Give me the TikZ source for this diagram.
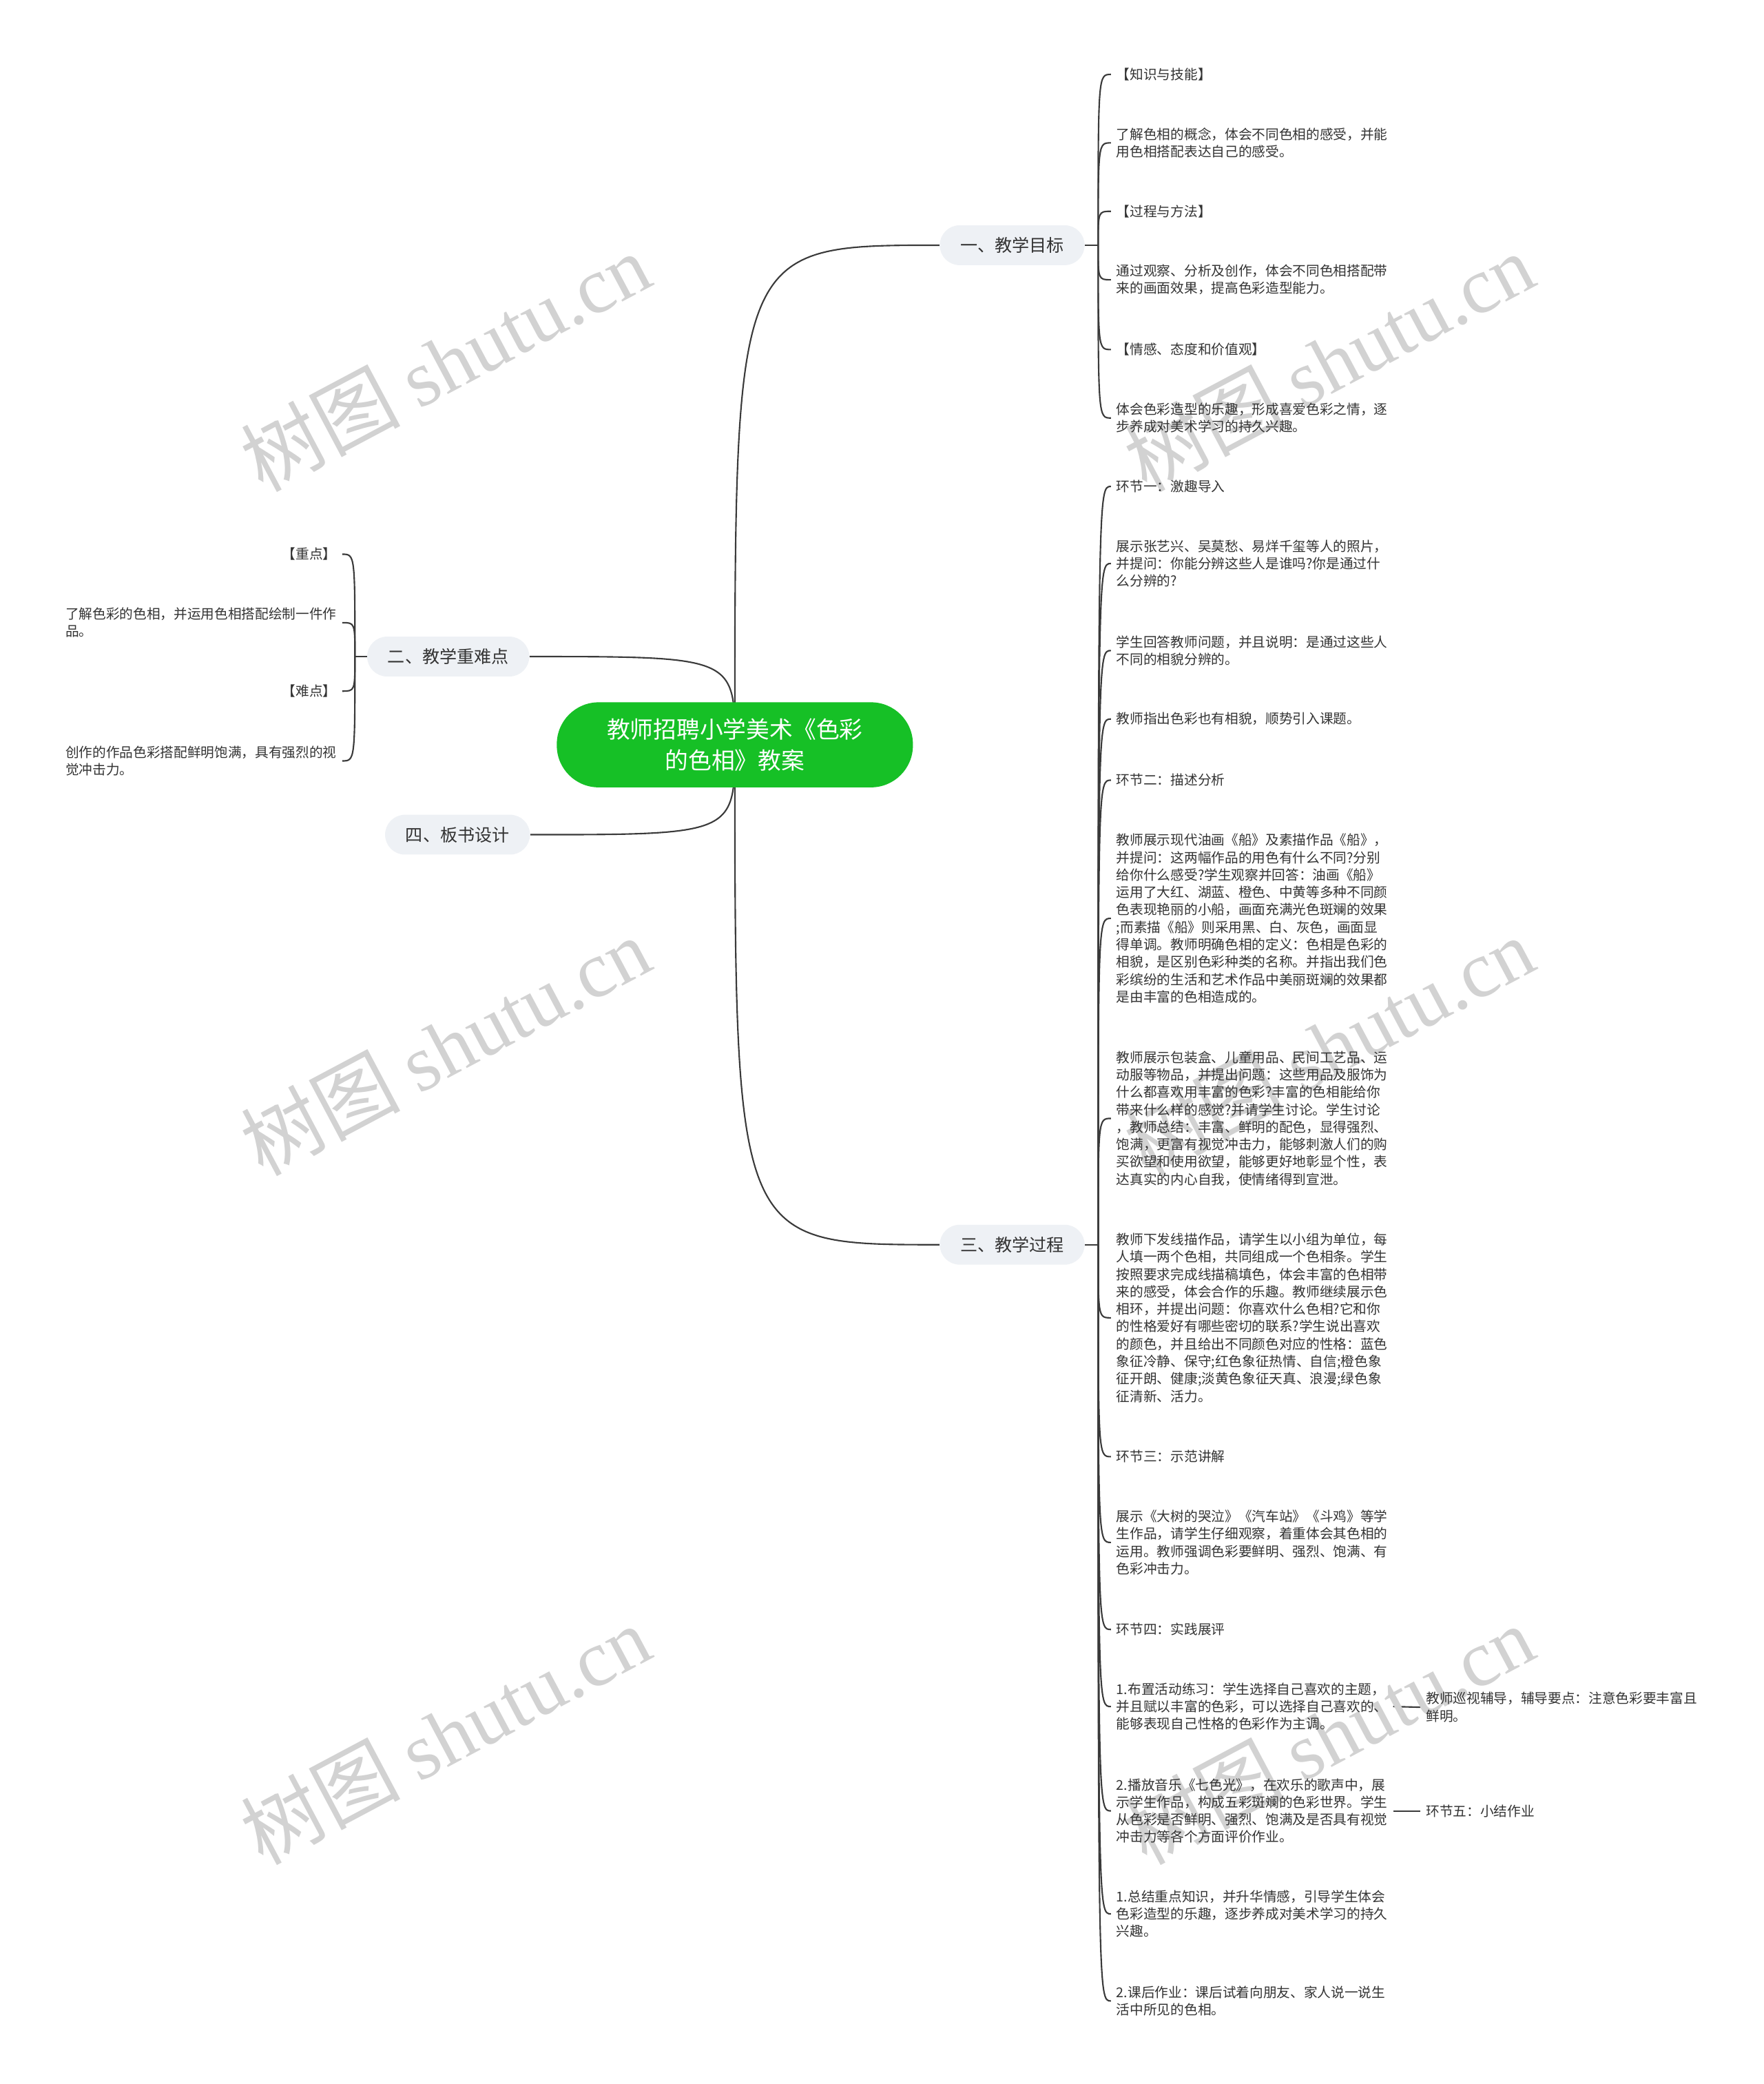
\documentclass[tikz,border=0pt]{standalone}
\usepackage{fontspec}
\usepackage{tikz}
\usepackage{xcolor}
\usetikzlibrary{backgrounds}
\setmainfont{Noto Sans CJK SC}
\newfontfamily\markserif{Liberation Serif}
\definecolor{rootgreen}{RGB}{22,192,38}
\definecolor{pillgray}{RGB}{238,241,245}
\definecolor{ink}{RGB}{51,51,51}
\definecolor{wire}{RGB}{58,58,58}
\definecolor{markgray}{RGB}{210,210,210}

\begin{document}
\begin{tikzpicture}[x=1pt, y=-1pt,
    root/.style={fill=rootgreen, text=white, rounded corners=31.5pt, minimum width=268pt,
        minimum height=64pt, align=center, font=\fontsize{17.5}{23.3}\selectfont},
    topic/.style={fill=pillgray, text=ink, rounded corners=15pt, minimum height=30pt,
        inner xsep=15.5pt, font=\fontsize{13}{15}\selectfont},
    leaf/.style={text=ink, align=left, inner xsep=4pt, inner ysep=1pt,
        font=\fontsize{10.2}{13.1}\selectfont},
    link/.style={draw=wire, line width=1.1pt,
        to path={.. controls (\tikztostart |- \tikztotarget) .. (\tikztotarget)}},
    watermark/.style={text=markgray, rotate=28, font=\fontsize{60}{60}\selectfont}]
    \useasboundingbox (0,0) rectangle (1327,1568);
    \begin{scope}[on background layer]
        \fill[white] (0,0) rectangle (1327,1568);
    \end{scope}

    % Watermark
    \foreach \wx in {335,1000}
        \foreach \wy in {272,787,1305}
            \node[watermark] (wm\wx\wy) at (\wx,\wy) {树图 {\markserif shutu.cn}};

    % Root and main topics
    \node[root] (root) at (553,560.4) {教师招聘小学美术《色彩\\的色相》教案};
    \node[topic, anchor=west] (t1) at (707,184.5) {一、教学目标};
    \node[topic, anchor=east] (t2) at (398.5,494) {二、教学重难点};
    \node[topic, anchor=west] (t3) at (707,936.5) {三、教学过程};
    \node[topic, anchor=east] (t4) at (399,628) {四、板书设计};
    \coordinate (j1) at ([xshift=10pt]t1.east);
    \coordinate (j2) at ([xshift=-9pt]t2.west);
    \coordinate (j3) at ([xshift=10pt]t3.east);

    % 一、教学目标
    \node[leaf, anchor=west] (c11) at (836,56) {【知识与技能】};
    \node[leaf, anchor=west] (c12) at (836,107.5) {了解色相的概念，体会不同色相的感受，并能\\用色相搭配表达自己的感受。};
    \node[leaf, anchor=west] (c13) at (836,159) {【过程与方法】};
    \node[leaf, anchor=west] (c14) at (836,210.5) {通过观察、分析及创作，体会不同色相搭配带\\来的画面效果，提高色彩造型能力。};
    \node[leaf, anchor=west] (c15) at (836,263) {【情感、态度和价值观】};
    \node[leaf, anchor=west] (c16) at (836,314.5) {体会色彩造型的乐趣，形成喜爱色彩之情，逐\\步养成对美术学习的持久兴趣。};

    % 二、教学重难点
    \node[leaf, anchor=east] (c21) at (257.5,417) {【重点】};
    \node[leaf, anchor=east] (c22) at (257.5,468.5) {了解色彩的色相，并运用色相搭配绘制一件作\\品。};
    \node[leaf, anchor=east] (c23) at (257.5,520) {【难点】};
    \node[leaf, anchor=east] (c24) at (257.5,572.5) {创作的作品色彩搭配鲜明饱满，具有强烈的视\\觉冲击力。};

    % 三、教学过程
    \node[leaf, anchor=west] (c31) at (836,366) {环节一：激趣导入};
    \node[leaf, anchor=west] (c32) at (836,424) {展示张艺兴、吴莫愁、易烊千玺等人的照片，\\并提问：你能分辨这些人是谁吗?你是通过什\\么分辨的?};
    \node[leaf, anchor=west] (c33) at (836,489.5) {学生回答教师问题，并且说明：是通过这些人\\不同的相貌分辨的。};
    \node[leaf, anchor=west] (c34) at (836,541) {教师指出色彩也有相貌，顺势引入课题。};
    \node[leaf, anchor=west] (c35) at (836,587) {环节二：描述分析};
    \node[leaf, anchor=west] (c36) at (836,691) {教师展示现代油画《船》及素描作品《船》，\\并提问：这两幅作品的用色有什么不同?分别\\给你什么感受?学生观察并回答：油画《船》\\运用了大红、湖蓝、橙色、中黄等多种不同颜\\色表现艳丽的小船，画面充满光色斑斓的效果\\;而素描《船》则采用黑、白、灰色，画面显\\得单调。教师明确色相的定义：色相是色彩的\\相貌，是区别色彩种类的名称。并指出我们色\\彩缤纷的生活和艺术作品中美丽斑斓的效果都\\是由丰富的色相造成的。};
    \node[leaf, anchor=west] (c37) at (836,841.5) {教师展示包装盒、儿童用品、民间工艺品、运\\动服等物品，并提出问题：这些用品及服饰为\\什么都喜欢用丰富的色彩?丰富的色相能给你\\带来什么样的感觉?并请学生讨论。学生讨论\\，教师总结：丰富、鲜明的配色，显得强烈、\\饱满，更富有视觉冲击力，能够刺激人们的购\\买欲望和使用欲望，能够更好地彰显个性，表\\达真实的内心自我，使情绪得到宣泄。};
    \node[leaf, anchor=west] (c38) at (836,991.5) {教师下发线描作品，请学生以小组为单位，每\\人填一两个色相，共同组成一个色相条。学生\\按照要求完成线描稿填色，体会丰富的色相带\\来的感受，体会合作的乐趣。教师继续展示色\\相环，并提出问题：你喜欢什么色相?它和你\\的性格爱好有哪些密切的联系?学生说出喜欢\\的颜色，并且给出不同颜色对应的性格：蓝色\\象征冷静、保守;红色象征热情、自信;橙色象\\征开朗、健康;淡黄色象征天真、浪漫;绿色象\\征清新、活力。};
    \node[leaf, anchor=west] (c39) at (836,1096) {环节三：示范讲解};
    \node[leaf, anchor=west] (c310) at (836,1160.5) {展示《大树的哭泣》《汽车站》《斗鸡》等学\\生作品，请学生仔细观察，着重体会其色相的\\运用。教师强调色彩要鲜明、强烈、饱满、有\\色彩冲击力。};
    \node[leaf, anchor=west] (c311) at (836,1226) {环节四：实践展评};
    \node[leaf, anchor=west] (c312) at (836,1284) {1.布置活动练习：学生选择自己喜欢的主题，\\并且赋以丰富的色彩，可以选择自己喜欢的、\\能够表现自己性格的色彩作为主调。};
    \node[leaf, anchor=west] (c313) at (836,1362.5) {2.播放音乐《七色光》，在欢乐的歌声中，展\\示学生作品，构成五彩斑斓的色彩世界。学生\\从色彩是否鲜明、强烈、饱满及是否具有视觉\\冲击力等各个方面评价作业。};
    \node[leaf, anchor=west] (c314) at (836,1440) {1.总结重点知识，并升华情感，引导学生体会\\色彩造型的乐趣，逐步养成对美术学习的持久\\兴趣。};
    \node[leaf, anchor=west] (c315) at (836,1505.5) {2.课后作业：课后试着向朋友、家人说一说生\\活中所见的色相。};
    \node[leaf, anchor=west] (g1) at (1069,1284.5) {教师巡视辅导，辅导要点：注意色彩要丰富且\\鲜明。};
    \node[leaf, anchor=west] (g2) at (1069,1362.5) {环节五：小结作业};

    % Connectors
    \begin{scope}[on background layer]
        \draw[link] (root.center) to (t1.west);
        \draw[link] (root.center) to (t2.east);
        \draw[link] (root.center) to (t3.west);
        \draw[link] (root.center) to (t4.east);
        \draw[link] (t1.east) -- (j1);
        \draw[link] (t2.west) -- (j2);
        \draw[link] (t3.east) -- (j3);
        \foreach \c in {c11,c12,c13,c14,c15,c16}
            \draw[link] (j1) to (\c.west);
        \foreach \c in {c21,c22,c23,c24}
            \draw[link] (j2) to (\c.east);
        \foreach \c in {c31,c32,c33,c34,c35,c36,c37,c38,c39,c310,c311,c312,c313,c314,c315}
            \draw[link] (j3) to (\c.west);
        \draw[link] (c312.east) -- (g1.west);
        \draw[link] (c313.east) -- (g2.west);
    \end{scope}
\end{tikzpicture}
\end{document}
